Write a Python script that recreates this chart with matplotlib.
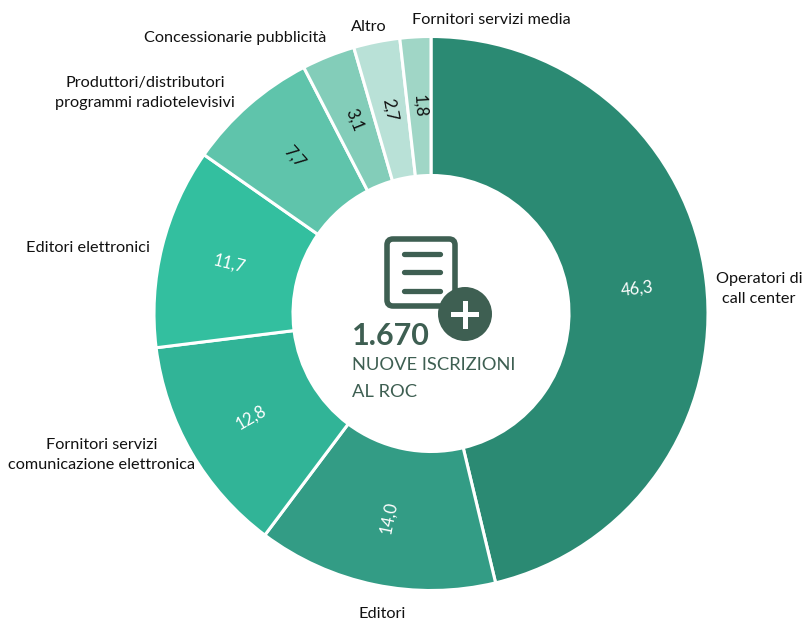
import numpy as np
import matplotlib
matplotlib.use('Agg')
import matplotlib.pyplot as plt
from matplotlib.patches import FancyBboxPatch, Circle

plt.rcParams['font.family'] = ['Lato', 'DejaVu Sans']

categorie = ['Operatori di\ncall center', 'Editori', 'Fornitori servizi\ncomunicazione elettronica',
             'Editori elettronici', 'Produttori/distributori\nprogrammi radiotelevisivi',
             'Concessionarie pubblicità', 'Altro', 'Fornitori servizi media']
valori = [46.3, 14.0, 12.8, 11.7, 7.7, 3.1, 2.7, 1.8]
etichette = ['46,3', '14,0', '12,8', '11,7', '7,7', '3,1', '2,7', '1,8']
colori = ['#2B8A73', '#339C85', '#31B497', '#33BF9F', '#5FC4AB', '#83CDB9', '#B9E1D7', '#A0D6C6']
col_testo = ['white', 'white', 'white', 'white', '#111111', '#111111', '#111111', '#111111']

# posizioni dei nomi, in pixel (x, y dall'alto)
pos_nomi = [(759, 289), (382, 614), (102, 455), (88, 248), (145, 93), (235, 38), (369, 27), (491, 20)]

W, H = 803, 620
fig = plt.figure(figsize=(W / 100, H / 100), dpi=100)
ax = fig.add_axes([0, 0, 1, 1])

cx, cy = 431, H - 313.5
R = 277
wedges, _ = ax.pie(valori, colors=colori, startangle=90, counterclock=False, radius=R, center=(cx, cy),
                   wedgeprops=dict(width=139, edgecolor='white', linewidth=2.2), frame=True)
ax.set_xlim(0, W)
ax.set_ylim(0, H)
ax.set_aspect('equal')
ax.axis('off')

# valori ruotati lungo il raggio
for w, lab, c in zip(wedges, etichette, col_testo):
    ang = (w.theta1 + w.theta2) / 2
    x = cx + 208 * np.cos(np.radians(ang))
    y = cy + 208 * np.sin(np.radians(ang))
    rot = ang if np.cos(np.radians(ang)) >= 0 else ang + 180
    ax.text(x, y, lab, color=c, fontsize=12, ha='center', va='center', rotation=rot, rotation_mode='anchor')

for nome, (x, y) in zip(categorie, pos_nomi):
    ax.text(x, H - y, nome, color='#111111', fontsize=11.7, ha='center', va='center', linespacing=1.6)

# icona al centro
verde = '#3E5F52'
ax.add_patch(FancyBboxPatch((387, H - 306), 68, 67, boxstyle='round,pad=0,rounding_size=6',
                            fc='white', ec=verde, lw=4))
for yy in [254, 272, 291]:
    ax.plot([404, 440], [H - yy, H - yy], color=verde, lw=3.8, solid_capstyle='round')
ax.add_patch(Circle((465, H - 314), 27, fc=verde, ec='none', zorder=3))
ax.plot([453.5, 476.5], [H - 314, H - 314], color='white', lw=3.6, zorder=4)
ax.plot([465, 465], [H - 302.5, H - 325.5], color='white', lw=3.6, zorder=4)

ax.text(352, H - 336, '1.670', color=verde, fontsize=22, fontweight='bold', ha='left', va='center', zorder=5)
ax.text(352, H - 365, 'NUOVE ISCRIZIONI', color=verde, fontsize=13.2, ha='left', va='center')
ax.text(352, H - 392, 'AL ROC', color=verde, fontsize=13.2, ha='left', va='center')

fig.savefig('out.png', dpi=100)
